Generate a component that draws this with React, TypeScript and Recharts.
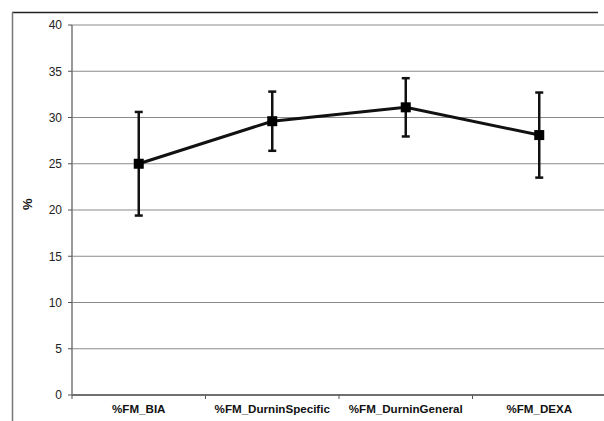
import { CartesianGrid, ErrorBar, Line, LineChart, XAxis, YAxis } from "recharts";

const categories = ["%FM_BIA", "%FM_DurninSpecific", "%FM_DurninGeneral", "%FM_DEXA"];
const means = [25.0, 29.6, 31.1, 28.1];
const errors = [5.6, 3.2, 3.15, 4.6];
const yTicks = [0, 5, 10, 15, 20, 25, 30, 35, 40];
const bandEdges = [0, 1, 2, 3];
const bandCenters = [0.5, 1.5, 2.5, 3.5];

const data = categories.map((name, i) => ({
  x: bandCenters[i],
  name,
  value: means[i],
  err: errors[i],
}));

const SquareDot = (props: any) => {
  const { cx, cy } = props;
  if (cx == null || cy == null) return null;
  return <rect x={cx - 5} y={cy - 5} width={10} height={10} fill="#000" />;
};

const font = "Liberation Sans, Arial, sans-serif";

export default function App() {
  return (
    <div style={{ position: "relative", width: 604, height: 421, overflow: "hidden", background: "#fff" }}>
      <style>{"body{margin:0;overflow:hidden}"}</style>
      <div style={{ position: "absolute", left: 0, top: 0 }}>
        <LineChart width={620} height={421} data={data} margin={{ top: 25, right: 14, bottom: 0, left: 0 }}>
          <CartesianGrid horizontal vertical={false} stroke="#8a8a8a" strokeWidth={1.2} />
          <XAxis
            xAxisId="edges"
            dataKey="x"
            type="number"
            domain={[0, 4]}
            ticks={bandEdges}
            tickFormatter={() => ""}
            height={6}
            tickSize={4}
            stroke="#555"
            axisLine={{ stroke: "#555", strokeWidth: 1.5 }}
          />
          <XAxis
            xAxisId="labels"
            dataKey="x"
            type="number"
            domain={[0, 4]}
            ticks={bandCenters}
            tickFormatter={(v: number) => categories[Math.floor(v)]}
            height={20}
            axisLine={false}
            tickLine={false}
            tickSize={0}
            tickMargin={4}
            tick={{ fill: "#111", fontSize: 11.6, fontWeight: "bold", fontFamily: font }}
            interval={0}
          />
          <YAxis
            domain={[0, 40]}
            ticks={yTicks}
            width={72}
            tickSize={4}
            tickMargin={6}
            stroke="#555"
            axisLine={{ stroke: "#777", strokeWidth: 1.5 }}
            tick={{ fill: "#222", fontSize: 12, fontFamily: font }}
            label={{
              value: "%",
              angle: -90,
              position: "insideLeft",
              offset: 27,
              style: { fill: "#111", fontSize: 13, fontWeight: "bold", fontFamily: font },
            }}
          />
          <Line
            xAxisId="edges"
            dataKey="value"
            stroke="#111"
            strokeWidth={3}
            dot={<SquareDot />}
            activeDot={false}
            isAnimationActive={false}
          >
            <ErrorBar dataKey="err" width={4} stroke="#111" strokeWidth={2.5} direction="y" />
          </Line>
        </LineChart>
      </div>
      {/* outer frame: only the top and left edges show in the crop */}
      <svg width={604} height={421} style={{ position: "absolute", left: 0, top: 0, pointerEvents: "none" }}>
        <line x1={12} y1={12.5} x2={598} y2={12.5} stroke="#222" strokeWidth={1.5} />
        <line x1={12.5} y1={12} x2={12.5} y2={421} stroke="#777" strokeWidth={1.5} />
      </svg>
    </div>
  );
}
